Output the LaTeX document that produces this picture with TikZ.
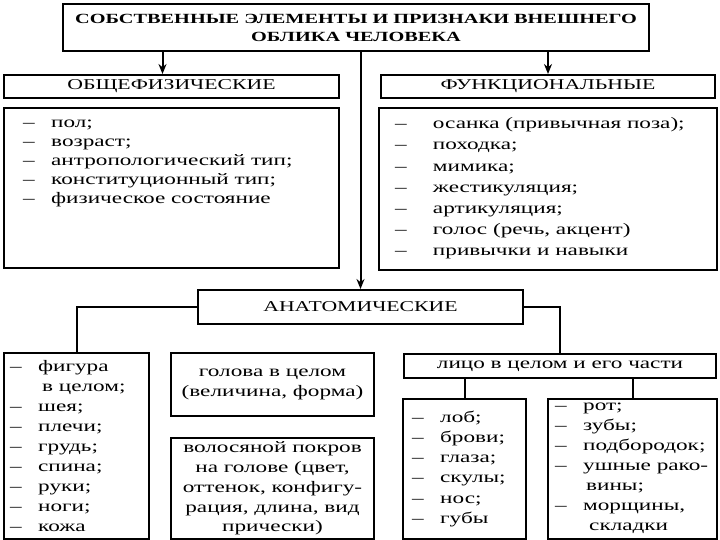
\documentclass[tikz,border=0pt]{standalone}
\usepackage{fontspec}
\setmainfont{Liberation Serif}[FakeStretch=1.45]
\usetikzlibrary{arrows.meta, positioning}

\newcommand\titlefont{\bfseries\fontsize{14}{18}\selectfont}
\newcommand\hdrfont{\fontsize{15}{18}\selectfont}
\newcommand\itemfont{\fontsize{16}{20}\selectfont}
% dash in front of a list line
\newcommand\dsh[1][28pt]{\strut\makebox[#1][l]{–}}
\newcommand\cont[1][31pt]{\strut\hspace*{#1}}

\begin{document}
\begin{tikzpicture}[x=1pt, y=-1pt,
    frame/.style={draw, line width=2pt, inner sep=0pt, anchor=north west},
    hdr/.style={frame, font=\hdrfont},
    items/.style={anchor=north west, inner sep=0pt, align=left},
    arrow/.style={-{Stealth[length=10pt, width=8pt]}, line width=2pt},
    link/.style={line width=2pt}
]
    \useasboundingbox (0,0) rectangle (720,540);

    \node[frame, minimum width=586pt, minimum height=47pt, align=center, font=\titlefont] (top) at (62,3)
        {СОБСТВЕННЫЕ ЭЛЕМЕНТЫ И ПРИЗНАКИ ВНЕШНЕГО\\ОБЛИКА ЧЕЛОВЕКА};

    % общефизические
    \node[hdr, minimum width=335pt, minimum height=23pt] (gen) at (3,74) {ОБЩЕФИЗИЧЕСКИЕ};
    \node[frame, minimum width=335pt, minimum height=160pt, below=8pt of gen] (genlist) {};
    \node[items, font={\fontsize{16}{19.2}\selectfont}] (genitems) at ([shift={(20,6.5)}]genlist.north west)
        {\dsh пол;\\ \dsh возраст;\\ \dsh антропологический тип;\\ \dsh конституционный тип;\\ \dsh физическое состояние};

    % функциональные
    \node[hdr, minimum width=334pt, minimum height=23pt] (fun) at (380,74) {ФУНКЦИОНАЛЬНЫЕ};
    \node[frame, minimum width=338pt, minimum height=162pt, below=8pt of fun] (funlist) {};
    \node[items, font={\fontsize{16}{21.2}\selectfont}] (funitems) at ([shift={(17,6.7)}]funlist.north west)
        {\dsh[32pt] осанка (привычная поза);\\ \dsh[32pt] походка;\\ \dsh[32pt] мимика;\\ \dsh[32pt] жестикуляция;\\
         \dsh[32pt] артикуляция;\\ \dsh[32pt] голос (речь, акцент)\\ \dsh[32pt] привычки и навыки};

    % анатомические
    \node[hdr, minimum width=325pt, minimum height=34pt] (anat) at (197,289) {АНАТОМИЧЕСКИЕ};

    \node[frame, minimum width=145pt, minimum height=186pt] (body) at (3,352) {};
    \node[items, font=\itemfont] (bodyitems) at ([shift={(7,5.5)}]body.north west)
        {\dsh фигура\\ \cont[32pt]в целом;\\ \dsh шея;\\ \dsh плечи;\\ \dsh грудь;\\ \dsh спина;\\ \dsh руки;\\ \dsh ноги;\\ \dsh кожа};

    \node[frame, minimum width=203pt, minimum height=63pt, align=center, font=\itemfont] (head) at (170,352)
        {голова в целом\\(величина, форма)};
    \node[frame, minimum width=203pt, minimum height=101pt, align=center, font={\fontsize{16}{19.75}\selectfont}] (hair) at (170,437)
        {волосяной покров\\на голове (цвет,\\оттенок, конфигу-\\рация, длина, вид\\прически)};

    \node[frame, minimum width=312pt, minimum height=24pt, font=\itemfont] (facehd) at (403,353) {лицо в целом и его части};
    \node[frame, minimum width=123pt, minimum height=140pt] (face1) at (402,398) {};
    \node[items, font={\fontsize{16}{20.2}\selectfont}] (face1items) at ([shift={(10,10)}]face1.north west)
        {\dsh лоб;\\ \dsh брови;\\ \dsh глаза;\\ \dsh скулы;\\ \dsh нос;\\ \dsh губы};
    \node[frame, minimum width=169pt, minimum height=140pt] (face2) at (547,398) {};
    \node[items, font=\itemfont] (face2items) at ([shift={(8,-1.5)}]face2.north west)
        {\dsh рот;\\ \dsh зубы;\\ \dsh подбородок;\\ \dsh ушные рако-\\ \cont вины;\\ \dsh морщины,\\ \cont[34pt]складки};

    % connectors
    \coordinate (genin) at ([xshift=-9pt]gen.north);
    \draw[arrow] (genin |- top.south) -- (genin);
    \draw[arrow] (top.south -| fun.north) -- (fun.north);
    \draw[arrow] (top.south -| anat.north) -- (anat.north);
    \draw[link] (anat.west) -| (body.north);
    \draw[link] (anat.east) -| (facehd.north);
    \draw[link] (facehd.south -| face1.north) -- (face1.north);
    \draw[link] (facehd.south -| face2.north) -- (face2.north);
\end{tikzpicture}
\end{document}
